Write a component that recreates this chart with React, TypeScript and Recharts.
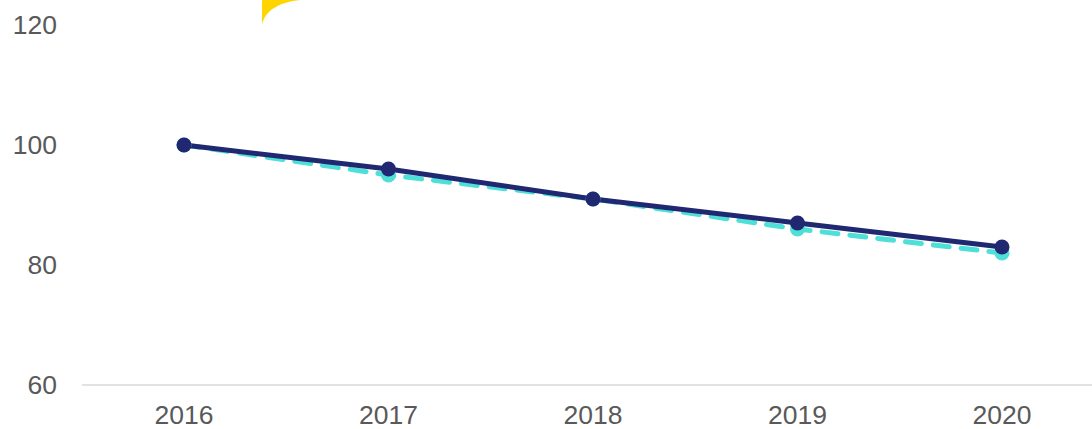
import React from 'react';
import { LineChart, Line, XAxis, YAxis, Customized } from 'recharts';

const years = ['2016', '2017', '2018', '2019', '2020'];
const solidValues = [100, 96, 91, 87, 83];
const dashedValues = [100, 95, 91, 86, 82];
const yTicks = [60, 80, 100, 120];

const data = years.map((year, i) => ({
  year,
  solid: solidValues[i],
  dashed: dashedValues[i],
}));

// small yellow decoration peeking in at the top edge
const YellowCorner = () => (
  <path d="M262,0 L300,0 C280,2 265,10 262,25 Z" fill="#FFD500" />
);

const tickStyle = { fontSize: 26.5, fill: '#595959', fontFamily: 'Liberation Sans, Arial, sans-serif' };

const App = () => {
  return (
    <div
      style={{
        position: 'absolute',
        left: 0,
        top: 0,
        width: 1092,
        height: 429,
        overflow: 'hidden',
        background: '#fff',
      }}
    >
      <LineChart
        width={1110}
        height={429}
        data={data}
        margin={{ top: 25, right: 6, left: 0, bottom: 0 }}
      >
        <XAxis
          dataKey="year"
          height={44}
          padding={{ left: 102, right: 102 }}
          axisLine={{ stroke: '#d9d9d9', strokeWidth: 1.5 }}
          tickLine={false}
          tickMargin={14}
          tick={tickStyle}
        />
        <YAxis
          width={82}
          domain={[60, 120]}
          ticks={yTicks}
          axisLine={false}
          tickLine={false}
          tickMargin={19}
          tick={tickStyle}
        />
        <Line
          type="linear"
          dataKey="dashed"
          stroke="#4DDFD8"
          strokeWidth={5}
          strokeDasharray="16 12"
          strokeLinecap="round"
          dot={{ r: 7.5, fill: '#4DDFD8', stroke: '#4DDFD8', strokeWidth: 0 }}
          isAnimationActive={false}
        />
        <Line
          type="linear"
          dataKey="solid"
          stroke="#1F2870"
          strokeWidth={5}
          dot={{ r: 7.5, fill: '#1F2870', stroke: '#1F2870', strokeWidth: 0 }}
          isAnimationActive={false}
        />
        <Customized component={YellowCorner} />
      </LineChart>
    </div>
  );
};

export default App;
